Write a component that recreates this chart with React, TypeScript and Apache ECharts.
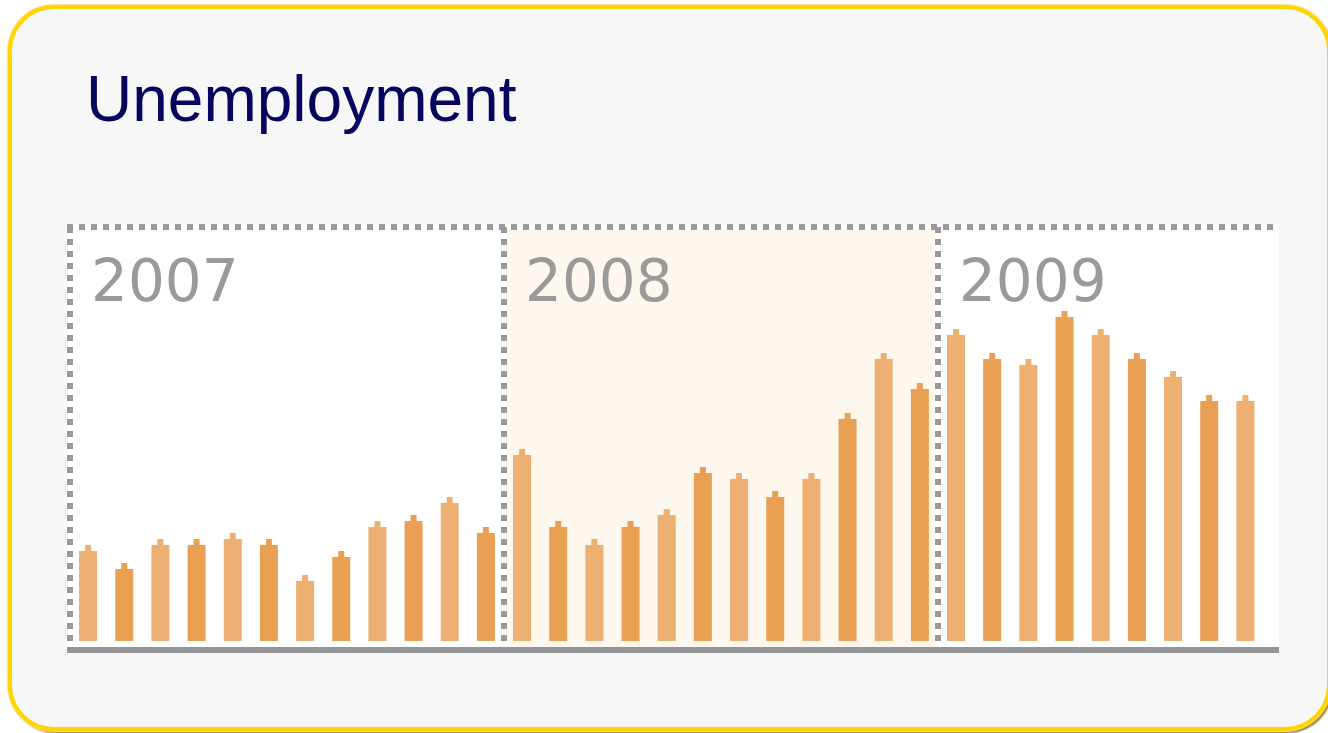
import React, { useEffect, useRef } from "react";
import * as echarts from "echarts";

// Monthly unemployment index (bar body height, chart units)
const years = ["2007", "2008", "2009"];
const unemp2007 = [15, 12, 16, 16, 17, 16, 10, 14, 19, 20, 23, 18];
const unemp2008 = [31, 19, 16, 19, 21, 28, 27, 24, 27, 37, 47, 42];
const unemp2009 = [51, 47, 46, 54, 51, 47, 44, 40, 40];
const monthsPerYear = 12;
const yMax = 69;

const LIGHT = "#EDAF72";
const DARK = "#E9A052";
const DOT = "#9a9a9a";

export default function App() {
  const ref = useRef<HTMLDivElement>(null);

  useEffect(() => {
    if (!ref.current) return;
    const chart = echarts.init(ref.current, undefined, { renderer: "svg" });
    const all = [...unemp2007, ...unemp2008, ...unemp2009];
    const bars = all.map((v, i) => ({
      value: [i + 0.5, v],
      itemStyle: { color: i % 2 === 0 ? LIGHT : DARK },
    }));
    const caps = all.map((v, i) => ({
      value: [i + 0.5, v],
      itemStyle: { color: i % 2 === 0 ? LIGHT : DARK, opacity: 1 },
    }));
    const gridLeft = 67;
    const gridWidth = 1212;
    const xMin = -0.083;
    const xMax = 33.43;
    const pitch = gridWidth / (xMax - xMin);
    const sepPx = (k: number) => gridLeft + (k * monthsPerYear - xMin) * pitch;

    chart.setOption({
      animation: false,
      title: {
        text: "Unemployment",
        left: 81,
        top: 62,
        textStyle: {
          fontFamily: "Liberation Sans, Arial, sans-serif",
          fontSize: 64,
          fontWeight: "normal",
          color: "#06065e",
        },
      },
      grid: { left: gridLeft, top: 227, width: gridWidth, height: 414, containLabel: false },
      xAxis: {
        type: "value",
        min: xMin,
        max: xMax,
        position: "bottom",
        offset: 9,
        axisLine: {
          show: true,
          onZero: false,
          lineStyle: { color: "#939598", width: 6, cap: "butt" },
        },
        axisTick: { show: false },
        axisLabel: { show: false },
        splitLine: { show: false },
      },
      yAxis: {
        type: "value",
        min: 0,
        max: yMax,
        show: false,
        splitLine: { show: false },
      },
      graphic: [
        {
          type: "rect",
          z: -10,
          shape: { x: 67, y: 224, width: 1212, height: 423 },
          style: { fill: "#ffffff" },
        },
        {
          type: "rect",
          z: -9,
          shape: { x: sepPx(1) + 3, y: 230, width: sepPx(2) - sepPx(1) - 6, height: 417 },
          style: { fill: "#FEF7EE" },
        },
        ...years.map((y, k) => ({
          type: "text",
          z: -5,
          x: sepPx(k) + 21,
          y: 281,
          style: {
            text: y,
            fontFamily: "DejaVu Sans, Verdana, sans-serif",
            fontSize: 58,
            fill: "#9a9a9a",
            textVerticalAlign: "middle",
          },
        })),
      ],
      series: [
        {
          type: "bar",
          data: bars,
          barWidth: 18,
          clip: false,
          silent: true,
          markLine: {
            silent: true,
            symbol: "none",
            label: { show: false },
            lineStyle: { type: [6, 6], width: 6, color: DOT, cap: "butt" },
            emphasis: { disabled: true },
            data: [
              { xAxis: 0 },
              { xAxis: monthsPerYear },
              { xAxis: monthsPerYear * 2 },
              { yAxis: yMax },
            ],
          },
        },
        {
          type: "scatter",
          data: caps,
          symbol: "rect",
          symbolSize: [6, 6],
          symbolOffset: [0, -3],
          itemStyle: { opacity: 1 },
          clip: false,
          silent: true,
          z: 3,
        },
      ],
    });
    return () => chart.dispose();
  }, []);

  return (
    <div style={{ position: "fixed", inset: 0, background: "#fff", overflow: "hidden" }}>
      <div
        style={{
          position: "absolute",
          left: 8,
          top: 5,
          width: 1323,
          height: 726,
          boxSizing: "border-box",
          border: "4px solid #FFD400",
          borderRadius: 46,
          background: "#F7F7F7",
          boxShadow: "0 0 1px 1px #ffe27a, 2px 2px 2px rgba(110,90,10,0.9)",
        }}
      />
      <div
        ref={ref}
        style={{ position: "absolute", left: 0, top: 0, width: 1328, height: 733 }}
      />
    </div>
  );
}
